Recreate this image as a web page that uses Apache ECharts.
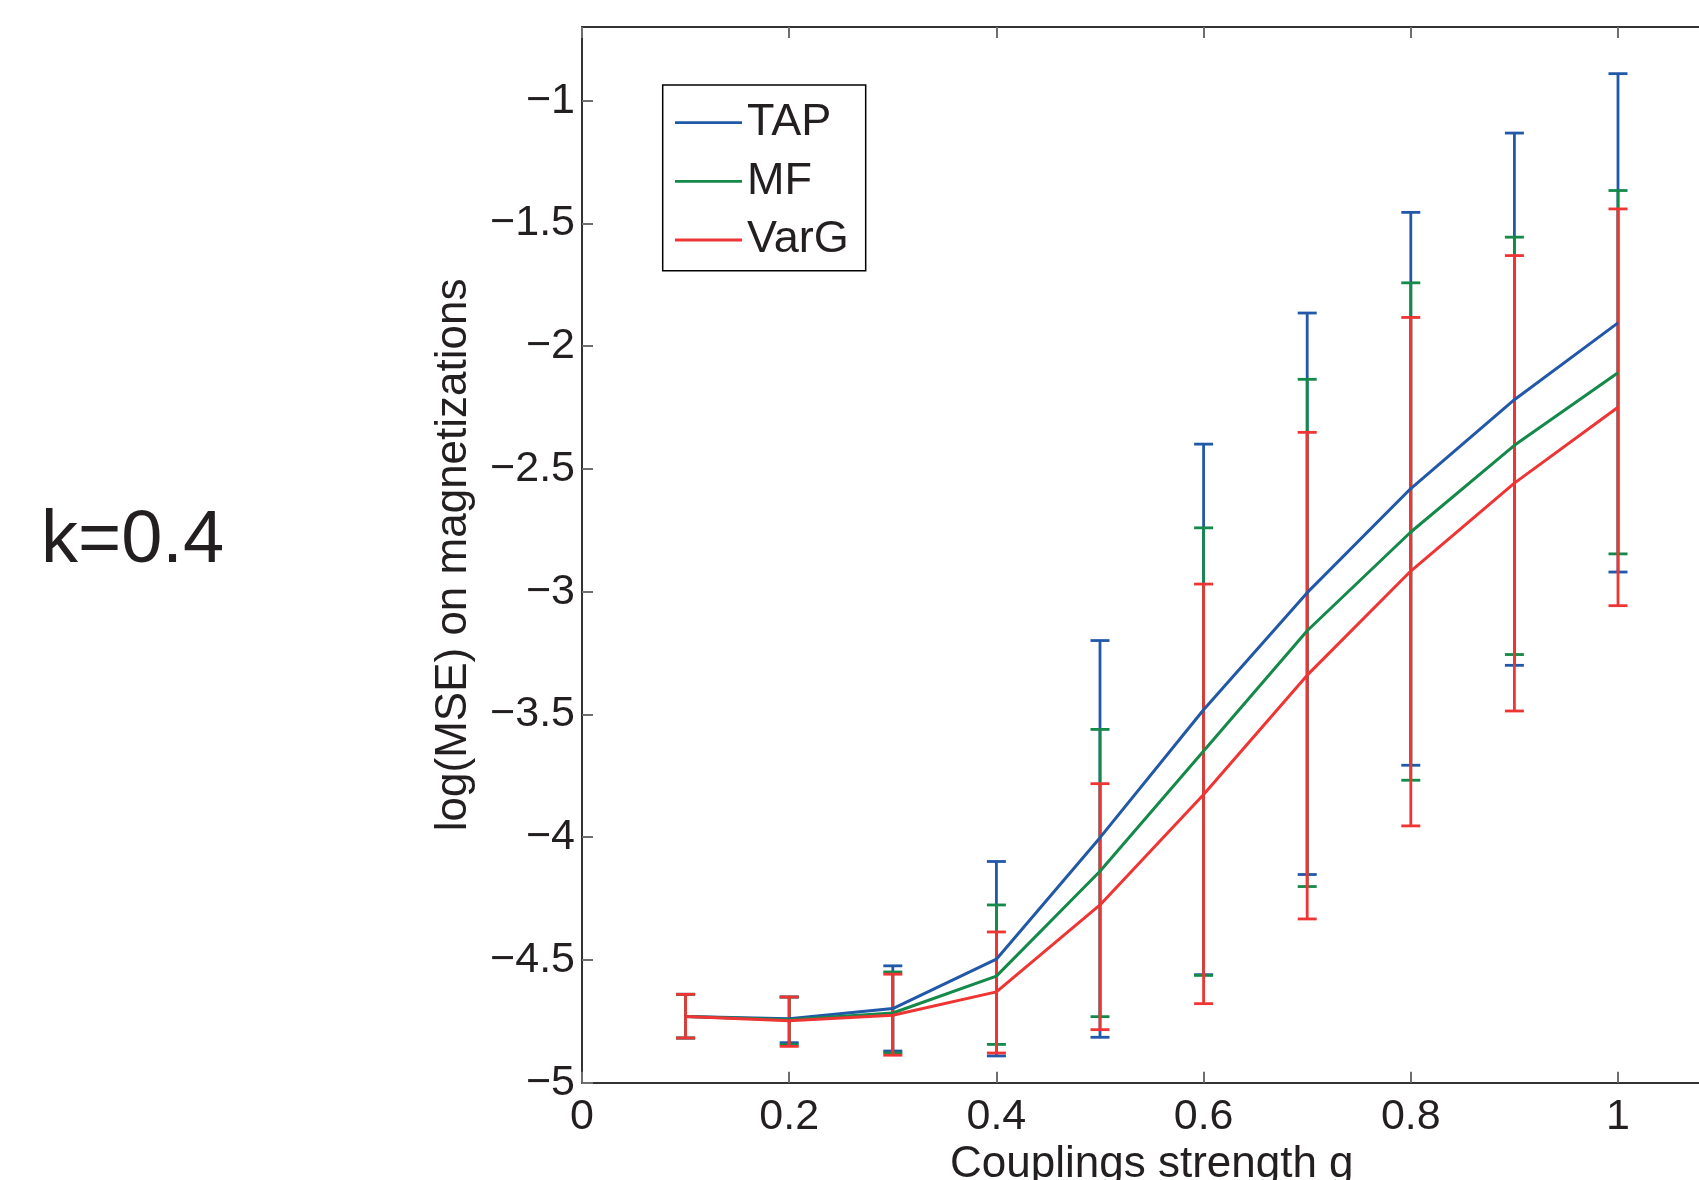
<!DOCTYPE html>
<html>
<head>
<meta charset="utf-8">
<script src="https://cdn.jsdelivr.net/npm/echarts@6/dist/echarts.min.js"></script>
<style>
html,body{margin:0;padding:0;background:#fff;}
#chart{width:1699px;height:1180px;}
</style>
</head>
<body>
<div id="chart"></div>
<script>
// ---- data ----
const g = [0.1, 0.2, 0.3, 0.4, 0.5, 0.6, 0.7, 0.8, 0.9, 1.0];

const tapMean = [-4.730, -4.740, -4.698, -4.497, -4.002, -3.481, -3.004, -2.580, -2.218, -1.905];
const tapLow  = [-4.818, -4.837, -4.871, -4.891, -4.815, -4.560, -4.152, -3.707, -3.300, -2.920];
const tapHigh = [-4.640, -4.651, -4.524, -4.099, -3.199, -2.399, -1.865, -1.455, -1.132, -0.890];

const mfMean = [-4.730, -4.744, -4.716, -4.566, -4.139, -3.649, -3.159, -2.757, -2.404, -2.108];
const mfLow  = [-4.818, -4.845, -4.879, -4.844, -4.731, -4.563, -4.201, -3.768, -3.256, -2.846];
const mfHigh = [-4.640, -4.651, -4.549, -4.276, -3.561, -2.740, -2.135, -1.742, -1.556, -1.366];

const vargMean = [-4.730, -4.748, -4.725, -4.630, -4.276, -3.826, -3.340, -2.916, -2.558, -2.249];
const vargLow  = [-4.818, -4.852, -4.888, -4.879, -4.784, -4.678, -4.333, -3.954, -3.486, -3.057];
const vargHigh = [-4.640, -4.651, -4.558, -4.386, -3.782, -2.969, -2.351, -1.883, -1.631, -1.441];

const seriesNames = ['TAP', 'MF', 'VarG'];
const seriesColors = ['#2158a8', '#14894a', '#ef3434'];
const sideLabel = 'k=0.4';
const xTitle = 'Couplings strength g';
const yTitle = 'log(MSE) on magnetizations';

// ---- build ----
const FONT = "'Liberation Sans', Arial, Helvetica, sans-serif";
const TXT = '#231f20';
const chart = echarts.init(document.getElementById('chart'), null, {renderer: 'canvas'});

function errSeries(name, color, low, high) {
  return {
    type: 'custom',
    name: name + ' err',
    silent: true,
    data: g.map((x, i) => [x, low[i], high[i]]),
    encode: {x: 0, y: [1, 2]},
    renderItem: function (params, api) {
      const x = api.value(0);
      const lo = api.coord([x, api.value(1)]);
      const hi = api.coord([x, api.value(2)]);
      const hw = 9.5;
      const st = {stroke: color, lineWidth: 2.8};
      return {
        type: 'group',
        children: [
          {type: 'line', shape: {x1: lo[0], y1: lo[1], x2: hi[0], y2: hi[1]}, style: st},
          {type: 'line', shape: {x1: hi[0] - hw, y1: hi[1], x2: hi[0] + hw, y2: hi[1]}, style: st},
          {type: 'line', shape: {x1: lo[0] - hw, y1: lo[1], x2: lo[0] + hw, y2: lo[1]}, style: st}
        ]
      };
    }
  };
}
function lineSeries(name, color, mean) {
  return {
    type: 'line',
    name: name,
    data: g.map((x, i) => [x, mean[i]]),
    showSymbol: false,
    symbol: 'none',
    itemStyle: {color: color},
    lineStyle: {color: color, width: 3},
    silent: true
  };
}

const means = [tapMean, mfMean, vargMean];
const lows = [tapLow, mfLow, vargLow];
const highs = [tapHigh, mfHigh, vargHigh];
const series = [];
for (let k = 0; k < 3; k++) {
  series.push(errSeries(seriesNames[k], seriesColors[k], lows[k], highs[k]));
  series.push(lineSeries(seriesNames[k], seriesColors[k], means[k]));
}

const axisLineStyle = {color: '#333', width: 2};
const tickStyle = {color: '#6e6e6e', width: 2};
const minusFmt = v => (v < 0 ? '\u2212' + String(+(-v).toFixed(2)) : String(+v.toFixed(2)));

chart.setOption({
  animation: false,
  backgroundColor: '#fff',
  textStyle: {fontFamily: FONT},
  grid: {left: 582, top: 27, width: 1139.6, height: 1055.7, containLabel: false, outerBoundsMode: 'none'},
  legend: {
    data: seriesNames,
    orient: 'vertical',
    left: 662.7, top: 85,
    icon: 'rect',
    itemWidth: 67, itemHeight: 2.8, itemGap: 13.7,
    padding: [15.1, 17, 8.2, 12.3],
    borderColor: '#000', borderWidth: 1.5,
    backgroundColor: '#fff',
    selectedMode: false,
    textStyle: {fontSize: 45, color: TXT, fontFamily: FONT, lineHeight: 45}
  },
  xAxis: [
    {
      type: 'value', position: 'bottom', min: 0, max: 1.1, interval: 0.2,
      axisLine: {show: true, lineStyle: axisLineStyle},
      axisTick: {show: true, inside: true, length: 11, lineStyle: tickStyle},
      axisLabel: {fontSize: 43, color: TXT, fontFamily: FONT, margin: 12.5, showMaxLabel: false,
                  formatter: minusFmt},
      splitLine: {show: false},
      name: xTitle, nameLocation: 'middle', nameGap: 48,
      nameTextStyle: {fontSize: 44, color: TXT, fontFamily: FONT}
    },
    {
      type: 'value', position: 'top', min: 0, max: 1.1, interval: 0.2,
      axisLine: {show: true, lineStyle: axisLineStyle},
      axisTick: {show: true, inside: true, length: 11, lineStyle: tickStyle},
      axisLabel: {show: false},
      splitLine: {show: false}
    }
  ],
  yAxis: [
    {
      type: 'value', min: -5, max: -0.7, interval: 0.5,
      axisLine: {show: true, lineStyle: axisLineStyle},
      axisTick: {show: true, inside: true, length: 11, lineStyle: tickStyle},
      axisLabel: {fontSize: 43, color: TXT, fontFamily: FONT, margin: 7, showMaxLabel: false,
                  formatter: minusFmt},
      splitLine: {show: false},
      name: yTitle, nameLocation: 'middle', nameGap: 106,
      nameTextStyle: {fontSize: 44, color: TXT, fontFamily: FONT}
    }
  ],
  graphic: [
    {
      type: 'text', left: 41, top: 504.4,
      style: {text: sideLabel, fontSize: 74, fill: TXT, font: "74px " + FONT}
    }
  ],
  series: series
});
</script>
</body>
</html>
